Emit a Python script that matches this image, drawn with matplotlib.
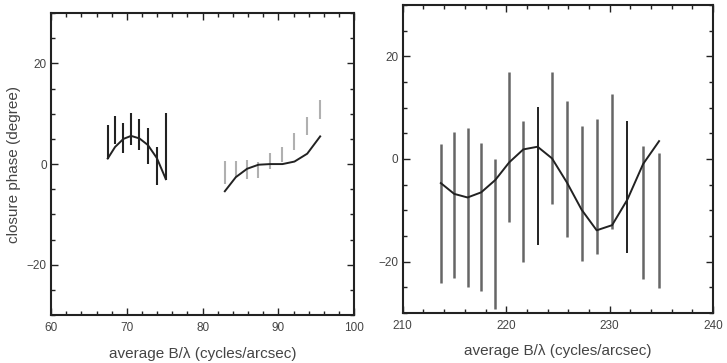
import numpy as np
import matplotlib
matplotlib.use("Agg")
import matplotlib.pyplot as plt
from matplotlib.ticker import MultipleLocator

plt.rcParams['font.family'] = ['Liberation Sans', 'DejaVu Sans']

# left panel, short baselines (black)
x1 = [67.48, 68.45, 69.55, 70.56, 71.66, 72.77, 73.96, 75.15]
lo1 = [1.07, 3.92, 2.26, 3.72, 2.73, 0.07, -4.24, -3.25]
hi1 = [7.85, 9.56, 8.17, 10.23, 8.90, 7.17, 3.39, 10.16]
mod1 = [1.1, 3.4, 5.0, 5.6, 5.1, 3.8, 1.2, -3.0]

# left panel, longer baselines (light grey)
x2 = [82.93, 84.38, 85.87, 87.37, 88.91, 90.54, 92.12, 93.80, 95.51]
lo2 = [-3.9, -2.6, -2.9, -2.8, -0.93, 0.4, 2.72, 5.71, 8.97]
hi2 = [0.53, 0.6, 0.86, 0.47, 2.26, 3.39, 6.18, 9.37, 12.7]
mod2 = [-5.4, -2.6, -0.93, -0.13, 0.0, 0.0, 0.5, 2.06, 5.5]

# right panel
x3 = [213.68, 214.97, 216.26, 217.58, 218.94, 220.29, 221.65, 223.03,
      224.42, 225.87, 227.29, 228.74, 230.23, 231.71, 233.23, 234.77]
lo3 = [-24.2, -23.1, -25.0, -25.8, -29.2, -12.3, -20.0, -16.8,
       -8.7, -15.2, -19.8, -18.6, -13.7, -18.3, -23.3, -25.2]
hi3 = [2.84, 5.23, 6.06, 3.16, -0.06, 17.03, 7.42, 10.13,
       17.03, 11.4, 6.5, 7.87, 12.6, 7.42, 2.58, 1.23]
mod3 = [-4.7, -6.8, -7.5, -6.5, -4.1, -0.65, 1.87, 2.39,
        0.13, -4.6, -9.9, -13.9, -12.9, -7.9, -0.97, 3.48]
dark3 = [7, 13]  # bars drawn in black

txt = '#444444'
fig = plt.figure(figsize=(7.27, 3.63), dpi=100)
ax1 = fig.add_axes([0.0702, 0.132, 0.417, 0.832])
ax2 = fig.add_axes([0.554, 0.138, 0.427, 0.848])

ax1.vlines(x1, lo1, hi1, color='#222222', lw=1.5)
ax1.vlines(x2, lo2, hi2, color='#b0b0b0', lw=1.5)
ax1.plot(x1, mod1, color='#222222', lw=1.4)
ax1.plot(x2, mod2, color='#222222', lw=1.4)

cols = ['#111111' if i in dark3 else '#666666' for i in range(len(x3))]
lws = [1.3 if i in dark3 else 1.8 for i in range(len(x3))]
ax2.vlines(x3, lo3, hi3, colors=cols, linewidths=lws)
ax2.plot(x3, mod3, color='#222222', lw=1.4)

ax1.set_xlim(60, 100)
ax2.set_xlim(210, 240)
for ax in (ax1, ax2):
    ax.set_ylim(-30, 30)
    ax.xaxis.set_major_locator(MultipleLocator(10))
    ax.xaxis.set_minor_locator(MultipleLocator(2))
    ax.yaxis.set_major_locator(MultipleLocator(20))
    ax.yaxis.set_minor_locator(MultipleLocator(5))
    ax.tick_params(which='both', direction='in', top=True, right=True,
                   colors='#222222', labelcolor=txt, labelsize=8.5, width=1)
    ax.tick_params(which='major', length=5)
    ax.tick_params(which='minor', length=3)
    ax.tick_params(axis='x', pad=5)
    ax.tick_params(axis='y', pad=3)
    for s in ax.spines.values():
        s.set_linewidth(1.5)
        s.set_color('#222222')
    ax.set_xlabel('average B/λ (cycles/arcsec)', fontsize=11, color=txt, labelpad=9)

ax1.set_ylabel('closure phase (degree)', fontsize=11, color=txt, labelpad=4)

fig.savefig('out.png', dpi=100)
